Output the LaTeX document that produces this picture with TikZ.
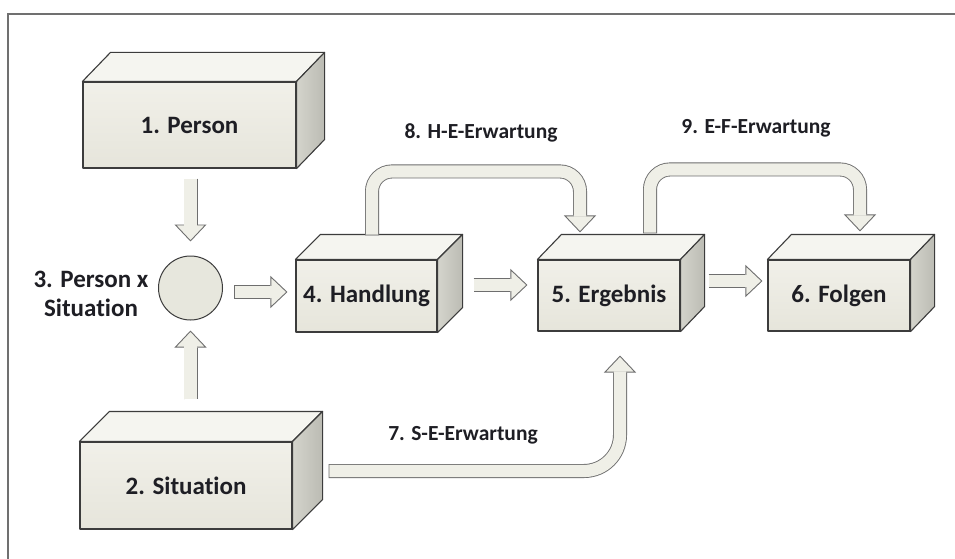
\documentclass[tikz,border=0pt]{standalone}
\usepackage{fontspec}
\setmainfont{Carlito}[Ligatures=NoCommon]
\usetikzlibrary{calc,arrows.meta}

\definecolor{boxline}{HTML}{3C3C3C}
\definecolor{frontTop}{HTML}{F1F0E9}
\definecolor{frontBot}{HTML}{E6E5DB}
\definecolor{topFace}{HTML}{F5F5F0}
\definecolor{sideLeft}{HTML}{D4D4CC}
\definecolor{sideRight}{HTML}{BBBBB3}
\definecolor{arrowline}{HTML}{6E6E6E}
\definecolor{arrowfill}{HTML}{EFEFE7}
\definecolor{circfill}{HTML}{E7E7DD}
\definecolor{labeltext}{HTML}{1E1E24}
\definecolor{frameline}{HTML}{707070}

\newcommand\boxfont{\fontsize{25}{29}\selectfont\bfseries}
\newcommand\edgefont{\fontsize{21.5}{25}\selectfont\bfseries}

\tikzset{
  frontface/.style={draw=boxline, line width=1.1pt, line join=round,
    top color=frontTop, bottom color=frontBot, inner sep=0pt,
    font=\boxfont, text=labeltext},
  topface/.style={draw=boxline, line width=1.1pt, line join=round, fill=topFace},
  sideface/.style={draw=boxline, line width=1.1pt, line join=round,
    left color=sideLeft, right color=sideRight},
  joinnode/.style={circle, draw=boxline, line width=1pt, fill=circfill,
    minimum size=64pt, inner sep=0pt},
  arrowhead/.style={draw=arrowline, line width=0.9pt,
    -{Triangle[length=17pt, width=32pt, fill=arrowfill]}},
  shaftedge/.style={draw=arrowline, line width=14pt},
  shaftfill/.style={draw=arrowfill, line width=12.2pt,
    shorten <=0.9pt, shorten >=-1.2pt},
  edgelabel/.style={font=\edgefont, text=labeltext, inner sep=0pt},
  sidelabel/.style={font=\boxfont, text=labeltext, align=center, inner sep=0pt},
}

% cuboid: name, centre of front face, width, height, depth vector, text
\newcommand\cuboid[6]{%
  \node[frontface, minimum width=#3, minimum height=#4] (#1) at (#2) {#6};
  \filldraw[topface] (#1.north west) -- ([shift={#5}]#1.north west)
    -- ([shift={#5}]#1.north east) -- (#1.north east) -- cycle;
  \filldraw[sideface] (#1.north east) -- ([shift={#5}]#1.north east)
    -- ([shift={#5}]#1.south east) -- (#1.south east) -- cycle;
}

% block arrow: [corner radius] {shaft path up to last corner} {last corner} {tip}
\newcommand\blockarrow[4][0pt]{%
  \coordinate (hb) at ($(#4)!17pt!(#3)$);
  \draw[arrowhead] (hb) -- (#4);
  \draw[shaftedge, rounded corners=#1] #2 -- (hb);
  \draw[shaftfill, rounded corners=#1] #2 -- (hb);
}

\begin{document}
\begin{tikzpicture}[x=1pt, y=-1pt]
  \useasboundingbox (0,0) rectangle (955,559);
  \fill[white] (0,0) rectangle (955,559);

  % outer frame (top and left edges)
  \draw[frameline, line width=1.6pt] (8,559) -- (8,14) -- (955,14);

  % boxes
  \cuboid{person}{189.5,125}{213pt}{86pt}{(28,-29)}{1. Person}
  \cuboid{situation}{186,485.5}{212pt}{87pt}{(30,-30)}{2. Situation}
  \cuboid{handlung}{366.5,296}{141pt}{72pt}{(25,-25)}{4. Handlung}
  \cuboid{ergebnis}{609,295.5}{142pt}{71pt}{(24,-25)}{5. Ergebnis}
  \cuboid{folgen}{839,295.5}{142pt}{71pt}{(24,-25)}{6. Folgen}

  % person x situation
  \node[joinnode] (circ) at (190.5,288) {};
  \node[sidelabel] (pxs) at (91,294) {3. Person x\\Situation};

  % straight arrows
  \coordinate (a1s) at ($(circ.north |- person.south)+(0,10)$);
  \coordinate (a1t) at ($(circ.north)+(0,-14)$);
  \blockarrow{(a1s)}{a1s}{a1t}

  \coordinate (a2s) at ($(circ.south |- situation.north)+(0,-42)$);
  \coordinate (a2t) at ($(circ.south)+(0,10)$);
  \blockarrow{(a2s)}{a2s}{a2t}

  \coordinate (a3s) at ($(circ.east)+(11,4)$);
  \coordinate (a3t) at ($(handlung.west)+(-8,-4)$);
  \blockarrow{(a3s)}{a3s}{a3t}

  \coordinate (a4s) at ($(handlung.east)+(36,-11)$);
  \coordinate (a4t) at ($(ergebnis.west)+(-10,-10.5)$);
  \blockarrow{(a4s)}{a4s}{a4t}

  \coordinate (a5s) at ($(ergebnis.east)+(28,-14.5)$);
  \coordinate (a5t) at ($(folgen.west)+(-5,-14.5)$);
  \blockarrow{(a5s)}{a5s}{a5t}

  % 8. H-E-Erwartung
  \coordinate (h8s) at ($(handlung.north)+(5.5,-24)$);
  \coordinate (h8u) at ($(handlung.north)+(5.5,-88)$);
  \coordinate (h8t) at ($(ergebnis.north)+(-29,-27)$);
  \coordinate (h8r) at (h8t |- h8u);
  \blockarrow[20pt]{(h8s) -- (h8u) -- (h8r)}{h8r}{h8t}
  \node[edgelabel] (lbl8) at (481,133) {8. H-E-Erwartung};

  % 9. E-F-Erwartung
  \coordinate (e9s) at ($(ergebnis.north)+(41,-26)$);
  \coordinate (e9u) at ($(ergebnis.north)+(41,-90)$);
  \coordinate (e9t) at ($(folgen.north)+(21,-28)$);
  \coordinate (e9r) at (e9t |- e9u);
  \blockarrow[20pt]{(e9s) -- (e9u) -- (e9r)}{e9r}{e9t}
  \node[edgelabel] (lbl9) at (756,128) {9. E-F-Erwartung};

  % 7. S-E-Erwartung
  \coordinate (s7s) at ($(situation.east)+(36,-14.5)$);
  \coordinate (s7t) at ($(ergebnis.south)+(11,24)$);
  \coordinate (s7c) at (s7t |- s7s);
  \blockarrow[36pt]{(s7s) -- (s7c)}{s7c}{s7t}
  \node[edgelabel] (lbl7) at (463,435) {7. S-E-Erwartung};
\end{tikzpicture}
\end{document}
